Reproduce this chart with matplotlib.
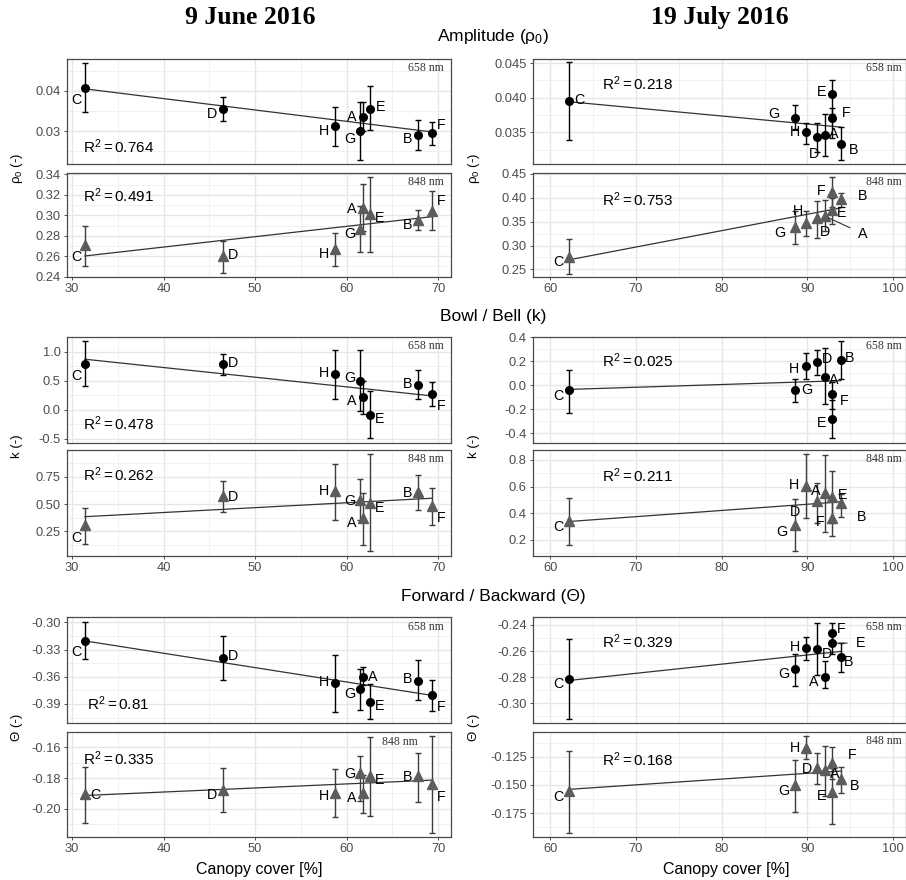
import numpy as np
import matplotlib.pyplot as plt
from matplotlib.ticker import MultipleLocator, AutoMinorLocator, FormatStrFormatter

plt.rcParams['font.family'] = ['Liberation Sans', 'DejaVu Sans']
plt.rcParams['axes.unicode_minus'] = False
plt.rcParams['mathtext.fontset'] = 'custom'
plt.rcParams['mathtext.rm'] = 'Liberation Sans'
plt.rcParams['mathtext.it'] = 'Liberation Sans:italic'

# plots A..H
sites = ['A', 'B', 'C', 'D', 'E', 'F', 'G', 'H']
cover_jun = [61.8, 67.8, 31.4, 46.5, 62.5, 69.3, 61.5, 58.7]
cover_jul = [92.0, 93.9, 62.2, 91.1, 92.9, 92.9, 88.5, 89.8]

# amplitude rho0
rho658_jun = [0.0336, 0.0290, 0.0408, 0.0355, 0.0356, 0.0294, 0.0300, 0.0312]
rho658_jun_lo = [0.0300, 0.0253, 0.0348, 0.0326, 0.0302, 0.0265, 0.0227, 0.0264]
rho658_jun_hi = [0.0371, 0.0327, 0.0470, 0.0385, 0.0412, 0.0323, 0.0371, 0.0359]
rho848_jun = [0.3073, 0.2951, 0.2713, 0.2602, 0.3015, 0.3040, 0.2864, 0.2672]
rho848_jun_lo = [0.2850, 0.2858, 0.2506, 0.2441, 0.2640, 0.2858, 0.2640, 0.2502]
rho848_jun_hi = [0.3304, 0.3050, 0.2900, 0.2752, 0.3377, 0.3233, 0.3090, 0.2826]
rho658_jul = [0.0346, 0.0333, 0.0395, 0.0343, 0.0406, 0.0371, 0.0371, 0.0350]
rho658_jul_lo = [0.0316, 0.0310, 0.0339, 0.0322, 0.0376, 0.0342, 0.0354, 0.0333]
rho658_jul_hi = [0.0376, 0.0358, 0.0452, 0.0363, 0.0425, 0.0385, 0.0389, 0.0364]
rho848_jul = [0.362, 0.397, 0.2765, 0.357, 0.375, 0.413, 0.3395, 0.3466]
rho848_jul_lo = [0.330, 0.380, 0.240, 0.316, 0.345, 0.380, 0.303, 0.320]
rho848_jul_hi = [0.395, 0.411, 0.313, 0.3935, 0.400, 0.4445, 0.372, 0.372]

# bowl / bell k
k658_jun = [0.217, 0.419, 0.793, 0.781, -0.098, 0.264, 0.500, 0.609]
k658_jun_lo = [-0.07, 0.19, 0.402, 0.591, -0.49, 0.062, -0.02, 0.19]
k658_jun_hi = [0.50, 0.678, 1.183, 0.966, 0.315, 0.476, 1.02, 1.022]
k848_jun = [0.368, 0.608, 0.304, 0.576, 0.512, 0.482, 0.537, 0.620]
k848_jun_lo = [0.120, 0.445, 0.132, 0.424, 0.068, 0.307, 0.350, 0.353]
k848_jun_hi = [0.604, 0.767, 0.463, 0.714, 0.957, 0.647, 0.730, 0.868]
k658_jul = [0.069, 0.214, -0.042, 0.192, -0.283, -0.069, -0.042, 0.161]
k658_jul_lo = [-0.158, 0.056, -0.228, 0.089, -0.439, -0.200, -0.139, 0.056]
k658_jul_hi = [0.311, 0.369, 0.130, 0.292, -0.120, 0.030, 0.056, 0.272]
k848_jul = [0.550, 0.475, 0.342, 0.492, 0.525, 0.362, 0.312, 0.607]
k848_jul_lo = [0.257, 0.375, 0.160, 0.330, 0.330, 0.232, 0.117, 0.362]
k848_jul_hi = [0.837, 0.543, 0.512, 0.630, 0.720, 0.500, 0.507, 0.842]

# forward / backward theta
th658_jun = [-0.3607, -0.3644, -0.3203, -0.3390, -0.3876, -0.3802, -0.3740, -0.3673]
th658_jun_lo = [-0.3690, -0.3857, -0.3408, -0.3636, -0.4070, -0.3975, -0.3967, -0.3986]
th658_jun_hi = [-0.3490, -0.3416, -0.3000, -0.3148, -0.3684, -0.3636, -0.3515, -0.3360]
th848_jun = [-0.1900, -0.1787, -0.1906, -0.1878, -0.1785, -0.1839, -0.1770, -0.1896]
th848_jun_lo = [-0.2026, -0.1954, -0.2091, -0.2024, -0.2048, -0.2160, -0.1950, -0.2056]
th848_jun_hi = [-0.1780, -0.1635, -0.1726, -0.1733, -0.1535, -0.1526, -0.1657, -0.1743]
th658_jul = [-0.2795, -0.2647, -0.2815, -0.2585, -0.2540, -0.2458, -0.2739, -0.2578]
th658_jul_lo = [-0.2884, -0.2762, -0.3122, -0.2780, -0.2620, -0.2520, -0.2867, -0.2670]
th658_jul_hi = [-0.2680, -0.2540, -0.2509, -0.2386, -0.2460, -0.2382, -0.2620, -0.2489]
th848_jul = [-0.1368, -0.1450, -0.1553, -0.1353, -0.1559, -0.1308, -0.1500, -0.1170]
th848_jul_lo = [-0.1600, -0.1573, -0.1921, -0.1494, -0.1845, -0.1450, -0.1736, -0.1270]
th848_jul_hi = [-0.1155, -0.1344, -0.1197, -0.1220, -0.1350, -0.1162, -0.1279, -0.1067]

r2_text = ['0.764', '0.491', '0.478', '0.262', '0.81', '0.335',
           '0.218', '0.753', '0.025', '0.211', '0.329', '0.168']

# label offsets in pixels (right, up) per panel
lab_off = [
    dict(C=(-9, -12), D=(-11, -4), H=(-11, -4), G=(-11, -7), A=(-11, 0), E=(11, 2), B=(-10, -3), F=(9, 9)),
    dict(C=(-9, -12), D=(10, 2), H=(-11, -4), G=(-11, -4), A=(-11, 0), E=(10, -4), B=(-10, -4), F=(9, 11)),
    dict(C=(-9, -12), D=(10, 2), H=(-11, 2), G=(-11, 3), A=(-11, -3), E=(10, -3), B=(-10, 2), F=(9, -11)),
    dict(C=(-9, -12), D=(10, 0), H=(-11, 1), G=(-11, 0), A=(-11, -4), E=(10, -5), B=(-10, 0), F=(9, -11)),
    dict(C=(-9, -11), D=(10, 2), H=(-11, 2), G=(-11, -4), A=(10, 1), E=(10, -4), B=(-10, 2), F=(9, -11)),
    dict(C=(10, 0), D=(-11, -4), H=(-11, -3), G=(-11, 0), A=(-11, -4), E=(10, -4), B=(-10, 0), F=(9, -12)),
    dict(C=(10, 2), G=(-21, 4), H=(-11, 1), D=(-3, -16), A=(9, 2), E=(-11, 2), F=(14, 5), B=(13, -5)),
    dict(C=(-11, -5), G=(-15, -6), H=(-8, 13), D=(8, -13), A=(38, -17), E=(9, -3), F=(-11, 1), B=(22, 4)),
    dict(C=(-11, -5), G=(12, 1), H=(-12, -2), D=(10, 4), A=(9, -2), F=(12, -7), E=(-11, -3), B=(9, 2)),
    dict(C=(-11, -5), G=(-13, -6), H=(-12, 1), D=(-22, -10), A=(-9, 3), E=(10, 2), F=(-12, -3), B=(21, -13)),
    dict(C=(-11, -4), G=(-11, -4), H=(-11, 2), D=(10, -4), A=(-11, -5), F=(9, 4), E=(28, 1), B=(8, -4)),
    dict(C=(-11, -5), G=(-11, -5), H=(-11, 0), D=(-10, 0), A=(10, -3), F=(20, 9), E=(-11, -4), B=(14, -6)),
]

# panel layout: (col, row, values, lo, hi, band, ylim, tick step, fmt, r2 pos)
panels = [
    (0, 0, rho658_jun, rho658_jun_lo, rho658_jun_hi, 658, (0.0218, 0.0479), 0.01, '%.2f', (0.042, 0.165)),
    (0, 1, rho848_jun, rho848_jun_lo, rho848_jun_hi, 848, (0.2397, 0.3413), 0.02, '%.2f', (0.042, 0.78)),
    (0, 2, k658_jun, k658_jun_lo, k658_jun_hi, 658, (-0.574, 1.253), 0.5, '%.1f', (0.042, 0.186)),
    (0, 3, k848_jun, k848_jun_lo, k848_jun_hi, 848, (0.023, 0.998), 0.25, '%.2f', (0.042, 0.77)),
    (0, 4, th658_jun, th658_jun_lo, th658_jun_hi, 658, (-0.411, -0.294), 0.03, '%.2f', (0.053, 0.186)),
    (0, 5, th848_jun, th848_jun_lo, th848_jun_hi, 848, (-0.2184, -0.150), 0.02, '%.2f', (0.041, 0.75)),
    (1, 0, rho658_jul, rho658_jul_lo, rho658_jul_hi, 658, (0.0304, 0.0456), 0.005, '%.3f', (0.184, 0.762)),
    (1, 1, rho848_jul, rho848_jul_lo, rho848_jul_hi, 848, (0.234, 0.452), 0.05, '%.2f', (0.184, 0.74)),
    (1, 2, k658_jul, k658_jul_lo, k658_jul_hi, 658, (-0.48, 0.403), 0.2, '%.1f', (0.184, 0.776)),
    (1, 3, k848_jul, k848_jul_lo, k848_jul_hi, 848, (0.08, 0.875), 0.2, '%.1f', (0.184, 0.755)),
    (1, 4, th658_jul, th658_jul_lo, th658_jul_hi, 658, (-0.3151, -0.2339), 0.02, '%.2f', (0.184, 0.767)),
    (1, 5, th848_jul, th848_jul_lo, th848_jul_hi, 848, (-0.1959, -0.1032), 0.025, '%.3f', (0.184, 0.74)),
]

col_x = [(0.0740, 0.4238), (0.5883, 0.4117)]
row_y = [(0.8136, 0.1193), (0.6852, 0.1182), (0.4966, 0.1205),
         (0.3682, 0.1205), (0.1784, 0.1205), (0.0489, 0.1193)]
col_xlim = [(29.45, 71.4), (58.0, 101.5)]
covers = [cover_jun, cover_jul]

fig = plt.figure(figsize=(9.06, 8.8), dpi=100)

for i, (col, row, v, lo, hi, band, ylim, step, fmt, r2pos) in enumerate(panels):
    x0, w = col_x[col]
    y0, h = row_y[row]
    ax = fig.add_axes([x0, y0, w, h])
    x = np.array(covers[col])
    v = np.array(v)
    lo = np.array(lo)
    hi = np.array(hi)

    if band == 658:
        mcol, ecol, mk, ms = 'black', 'black', 'o', 5.5
    else:
        mcol, ecol, mk, ms = '#5c5c5c', '#3c3c3c', '^', 6.5

    # regression line
    b = np.polyfit(x, v, 1)
    xs = np.array([x.min(), x.max()])
    ax.plot(xs, np.polyval(b, xs), color='#333333', lw=0.9, zorder=2)

    ax.errorbar(x, v, yerr=[v - lo, hi - v], fmt='none', ecolor=ecol,
                elinewidth=1.0, capsize=2.0, capthick=1.0, zorder=3)
    ax.plot(x, v, mk, color=mcol, ms=ms, zorder=4, clip_on=False)

    offs = lab_off[i]
    for s, xv, yv in zip(sites, x, v):
        dx, dy = offs[s]
        seg = np.hypot(dx, dy) > 26
        ax.annotate(s, (xv, yv), xytext=(dx * 0.72, dy * 0.72 - 0.5), textcoords='offset points',
                    ha='center', va='center', fontsize=10.3, color='black', zorder=5,
                    arrowprops=dict(arrowstyle='-', color='#333333', lw=0.8,
                                    shrinkA=4, shrinkB=3) if seg else None)

    ax.text(r2pos[0], r2pos[1], '$\\mathregular{R^2 = ' + r2_text[i] + '}$',
            transform=ax.transAxes, ha='left', va='center', fontsize=11)

    if col == 0 and row == 5:
        ax.text(0.867, 0.908, '848 nm', transform=ax.transAxes, ha='center', va='center',
                fontsize=8.5, family='Liberation Serif', color='#333333')
    else:
        ax.text(0.982 if col == 0 else 0.988, 0.91, '%d nm' % band, transform=ax.transAxes,
                ha='right', va='center', fontsize=8.5, family='Liberation Serif', color='#333333')

    ax.set_xlim(col_xlim[col])
    ax.set_ylim(ylim)
    ax.xaxis.set_major_locator(MultipleLocator(10))
    ax.xaxis.set_minor_locator(MultipleLocator(5))
    ax.yaxis.set_major_locator(MultipleLocator(step))
    ax.yaxis.set_minor_locator(AutoMinorLocator(2))
    ax.yaxis.set_major_formatter(FormatStrFormatter(fmt))
    ax.grid(which='major', color='#E6E6E6', lw=1.0)
    ax.grid(which='minor', color='#EFEFEF', lw=0.6)
    ax.set_axisbelow(True)
    ax.tick_params(which='major', length=2.5, width=0.6, color='#333333',
                   labelcolor='#4D4D4D', labelsize=9.3, pad=2)
    ax.tick_params(which='minor', length=0)
    if row % 2 == 0:
        ax.tick_params(axis='x', which='major', length=0, labelbottom=False)
    for sp in ax.spines.values():
        sp.set_color('#4a4a4a')
        sp.set_linewidth(0.9)

# titles and axis texts
fig.text(0.276, 0.980, '9 June 2016', ha='center', va='center', fontsize=18.5,
         fontweight='bold', family='Liberation Serif')
fig.text(0.795, 0.980, '19 July 2016', ha='center', va='center', fontsize=18.5,
         fontweight='bold', family='Liberation Serif')
fig.text(0.544, 0.959, 'Amplitude ($\\mathregular{\\rho_0}$)', ha='center', va='center', fontsize=12.5)
fig.text(0.544, 0.640, 'Bowl / Bell (k)', ha='center', va='center', fontsize=12.5)
fig.text(0.544, 0.322, 'Forward / Backward (Θ)', ha='center', va='center', fontsize=12.5)

ylabels = ['$\\mathregular{\\rho_0}$ (-)', 'k (-)', 'Θ (-)']
ycent = [1 - 168 / 880, 1 - 446.5 / 880, 1 - 727 / 880]
for lab, yc in zip(ylabels, ycent):
    for xc in (0.019, 0.523):
        fig.text(xc, yc, lab, rotation=90, ha='center', va='center', fontsize=9.5)

fig.text(0.286, 0.0114, 'Canopy cover [%]', ha='center', va='center', fontsize=11.5)
fig.text(0.802, 0.0114, 'Canopy cover [%]', ha='center', va='center', fontsize=11.5)

fig.savefig('out.png', dpi=100)
